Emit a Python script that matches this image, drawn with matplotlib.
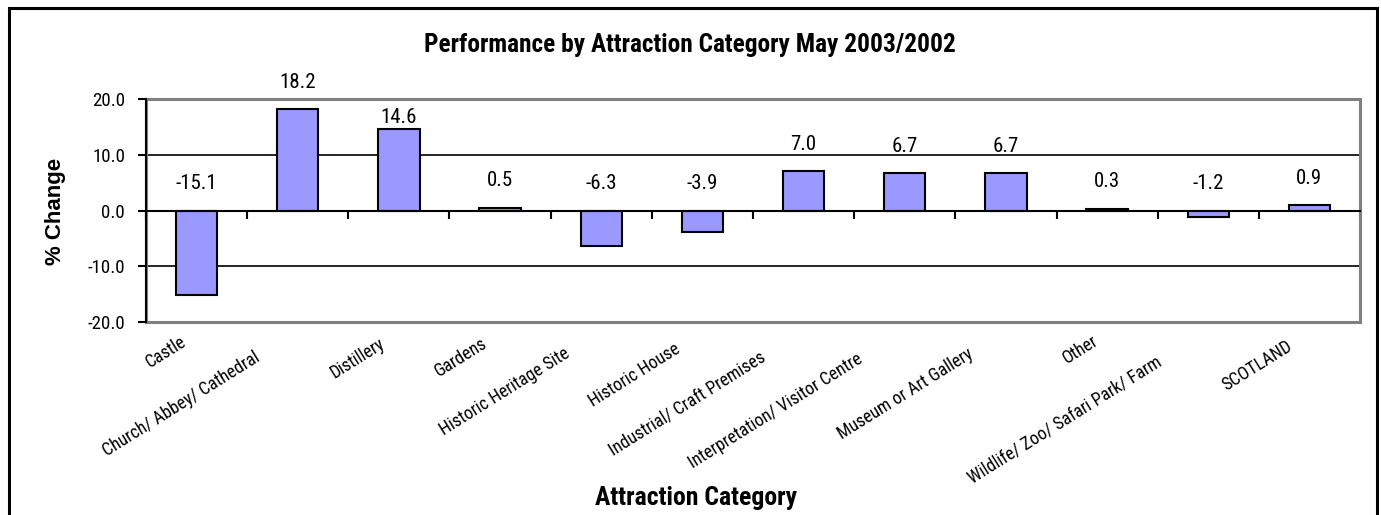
import matplotlib
matplotlib.use("Agg")
import matplotlib.pyplot as plt
import matplotlib.transforms as mtransforms
from matplotlib.patches import Rectangle
import numpy as np

# chart data
categories = ["Castle", "Church/ Abbey/ Cathedral", "Distillery", "Gardens",
              "Historic Heritage Site", "Historic House", "Industrial/ Craft Premises",
              "Interpretation/ Visitor Centre", "Museum or Art Gallery", "Other",
              "Wildlife/ Zoo/ Safari Park/ Farm", "SCOTLAND"]
changes = [-15.1, 18.2, 14.6, 0.5, -6.3, -3.9, 7.0, 6.7, 6.7, 0.3, -1.2, 0.9]
yticks = [-20, -10, 0, 10, 20]

narrow = ["Roboto Condensed", "Archivo Narrow", "DejaVu Sans"]
bar_color = "#9999FF"

fig = plt.figure(figsize=(13.81, 5.15), dpi=100)
W, H = 1381, 515
ax = fig.add_axes([146 / W, 1 - 322 / H, (1360 - 146) / W, (322 - 99) / H])

x = np.arange(len(categories))
ax.bar(x, changes, width=0.41, color=bar_color, edgecolor="black", linewidth=1.5, zorder=3)

ax.set_xlim(-0.5, len(categories) - 0.5)
ax.set_ylim(-20, 20)

# gridlines
for v in yticks[1:-1]:
    ax.axhline(v, color="black", linewidth=1.2, zorder=1)

# spines: black y axis, category axis crossing at zero, grey frame
for s in ["top", "right"]:
    ax.spines[s].set_visible(False)
ax.spines["left"].set_linewidth(1.5)
ax.spines["bottom"].set_position(("data", 0))
ax.spines["bottom"].set_linewidth(1.5)
ax.spines["bottom"].set_zorder(4)
ax.add_patch(Rectangle((0, 0), 1, 1, transform=ax.transAxes, fill=False,
                       edgecolor="#808080", linewidth=2.2, zorder=2, clip_on=False))

ax.set_yticks(yticks)
ax.set_yticklabels([f"{v:.1f}" for v in yticks], fontfamily=narrow, fontsize=13.6)
ax.tick_params(axis="y", direction="out", length=6, width=1.5, pad=9)
ax.set_xticks(np.arange(len(categories) + 1) - 0.5)
ax.tick_params(axis="x", direction="out", length=6, width=1.5, labelbottom=False)

# data labels
label_gap = {2: 12}
for i, v in enumerate(changes):
    base = max(v, 0)
    gap = label_gap.get(i, 27)
    tr = mtransforms.offset_copy(ax.transData, fig=fig, x=0, y=gap, units="dots")
    ax.text(i, base, f"{v:.1f}", transform=tr, ha="center", va="center",
            fontfamily=narrow, fontsize=15, zorder=5)

# category labels, placed the way the spreadsheet does it
fig.canvas.draw()
renderer = fig.canvas.get_renderer()
angle = 32
for i, name in enumerate(categories):
    probe = fig.text(0, 0, name, fontfamily=narrow, fontsize=12.8)
    L = probe.get_window_extent(renderer).width
    probe.remove()
    tr = mtransforms.offset_copy(ax.get_xaxis_transform(), fig=fig,
                                 x=-8 - 0.2 * L, y=-(6 + 0.11 * L), units="dots")
    ax.text(i, 0, name, transform=tr, rotation=angle, rotation_mode="anchor",
            ha="right", va="top", fontfamily=narrow, fontsize=12.8, clip_on=False)

fig.text(690 / W, 1 - 45 / H, "Performance by Attraction Category May 2003/2002",
         ha="center", va="center", fontfamily=narrow, fontweight="bold", fontsize=18.3)
fig.text(696 / W, 1 - 498 / H, "Attraction Category", ha="center", va="center",
         fontfamily=narrow, fontweight="bold", fontsize=18.5)
fig.text(55 / W, 1 - 211 / H, "% Change", ha="center", va="center", rotation=90,
         fontfamily=["Liberation Sans", "DejaVu Sans"], fontweight="bold", fontsize=16)

# outer chart border
fig.add_artist(Rectangle((9 / W, -0.05), (1377 - 9) / W, 1.05 - 8 / H,
                         transform=fig.transFigure, fill=False, edgecolor="black",
                         linewidth=2.2))

fig.savefig("out.png", dpi=100)
